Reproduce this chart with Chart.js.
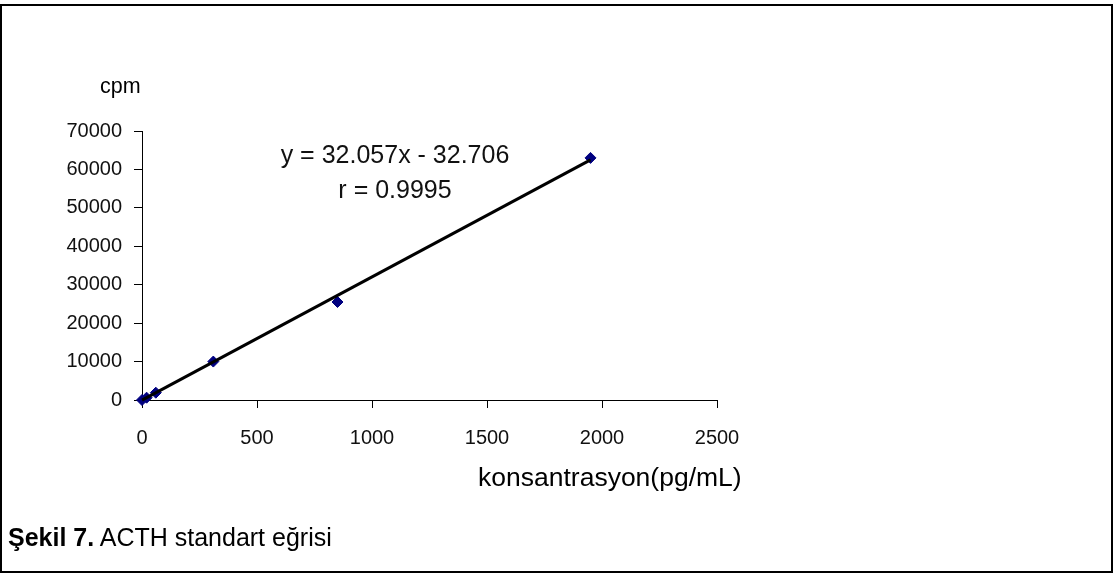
<!DOCTYPE html>
<html lang="tr">
<head>
<meta charset="utf-8">
<title>ACTH standart eğrisi</title>
<script src="https://cdn.jsdelivr.net/npm/chart.js@4/dist/chart.umd.min.js"></script>
<style>
  html, body { margin: 0; padding: 0; background: #fff; }
  body { width: 1119px; height: 575px; position: relative; overflow: hidden;
         font-family: "Liberation Sans", Arial, sans-serif; color: #000; }
  #frame { position: absolute; left: 0; top: 4px; width: 1109px; height: 565px;
           border: 2px solid #000; }
  #chart { position: absolute; left: 0; top: 0; }
  .lbl { position: absolute; white-space: nowrap; line-height: 1; }
  #cpm { left: 100px; top: 76px; font-size: 21.5px; }
  #eq { left: 245px; width: 300px; text-align: center; top: 137px; line-height: 35px; font-size: 25px; color: #111; }
  #xtitle { left: 478px; top: 464px; font-size: 26.5px; }
  #caption { position: absolute; left: 8px; top: 525px; font-size: 25px; line-height: 1; white-space: nowrap; }
</style>
</head>
<body>
<div id="frame"></div>
<canvas id="chart" width="1119" height="575"></canvas>
<div class="lbl" id="cpm">cpm</div>
<div class="lbl" id="eq"><div>y = 32.057x - 32.706</div><div>r = 0.9995</div></div>
<div class="lbl" id="xtitle">konsantrasyon(pg/mL)</div>
<div id="caption"><b>Şekil 7.</b> ACTH standart eğrisi</div>
<script>
// ACTH standards: concentration (pg/mL) and measured counts (cpm)
const concentrations = [0, 20, 60, 310, 850, 1950];
const counts = [0, 600, 1900, 10000, 25500, 63000];

// Axis tick labels
const xTicks = [0, 500, 1000, 1500, 2000, 2500];
const yTicks = [0, 10000, 20000, 30000, 40000, 50000, 60000, 70000];

// Linear fit reported on the chart: y = 32.057x - 32.706
const slope = 32.057;
const intercept = -32.706;

const xMin = Math.min(...concentrations);
const xMax = Math.max(...concentrations);
const fitLine = [
  { x: xMin, y: slope * xMin + intercept },
  { x: xMax, y: slope * xMax + intercept }
];

const standards = concentrations.map((c, i) => ({ x: c, y: counts[i] }));

// plot area edges in canvas pixels
const AREA = { left: 142, right: 717, top: 131, bottom: 400 };
const W = 1119, H = 575;

const tickFont = { family: '"Liberation Sans", Arial, sans-serif', size: 20 };
const plainNumber = v => String(v);

new Chart(document.getElementById('chart'), {
  type: 'scatter',
  data: {
    datasets: [
      {
        label: 'Doğrusal (standart)',
        data: fitLine,
        showLine: true,
        borderColor: '#000',
        borderWidth: 3,
        pointRadius: 0,
        fill: false,
        clip: false,
        order: 0
      },
      {
        label: 'Standart',
        data: standards,
        pointStyle: 'rectRot',
        pointRadius: 5.5,
        backgroundColor: '#000080',
        borderColor: '#000080',
        borderWidth: 1,
        clip: false,
        order: 1
      }
    ]
  },
  options: {
    responsive: false,
    animation: false,
    devicePixelRatio: 1,
    plugins: { legend: { display: false }, tooltip: { enabled: false } },
    layout: {
      padding: { left: 0, top: AREA.top, right: W - AREA.right, bottom: 0 }
    },
    scales: {
      x: {
        type: 'linear',
        min: xTicks[0],
        max: xTicks[xTicks.length - 1],
        afterBuildTicks: s => { s.ticks = xTicks.map(v => ({ value: v })); },
        afterFit: s => { s.height = H - AREA.bottom; },
        ticks: { color: '#111', font: tickFont, padding: 18, maxRotation: 0, callback: plainNumber },
        grid: { drawOnChartArea: false, drawTicks: true, tickLength: 8, color: '#000', lineWidth: 1 },
        border: { display: true, color: '#000', width: 1 }
      },
      y: {
        type: 'linear',
        min: yTicks[0],
        max: yTicks[yTicks.length - 1],
        afterBuildTicks: s => { s.ticks = yTicks.map(v => ({ value: v })); },
        afterFit: s => { s.width = AREA.left; },
        ticks: { color: '#111', font: tickFont, padding: 12, callback: plainNumber },
        grid: { drawOnChartArea: false, drawTicks: true, tickLength: 8, color: '#000', lineWidth: 1 },
        border: { display: true, color: '#000', width: 1 }
      }
    }
  }
});
</script>
</body>
</html>
